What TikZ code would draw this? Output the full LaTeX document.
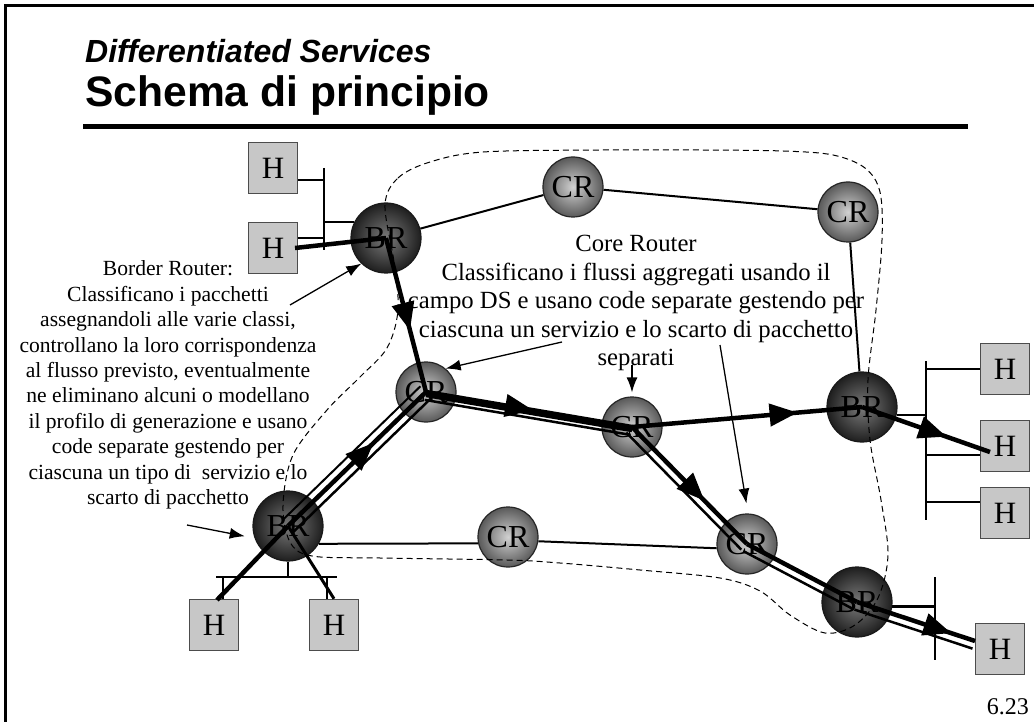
\documentclass[tikz,border=0pt]{standalone}
\usepackage{fontspec}
\setmainfont{Liberation Serif}
\newfontfamily\slidefont{Liberation Sans}
\usetikzlibrary{calc,arrows.meta,decorations.markings}

\tikzset{
  hostbox/.style={draw=black!70, line width=1.5, fill=black!22, minimum width=49,
    minimum height=51, inner sep=0, font=\fontsize{31}{31}\selectfont},
  coreball/.style={circle, draw=black!85, line width=1.2, inner color=black!18,
    outer color=black!65, minimum size=60, inner sep=0, font=\fontsize{32}{32}\selectfont},
  edgeball/.style={circle, draw=black!90, line width=1.2, inner color=black!52,
    outer color=black!88, minimum size=70, inner sep=0, font=\fontsize{32}{32}\selectfont},
  link/.style={line width=2},
  bus/.style={line width=2.5},
  flow/.style={line width=4.5},
  pipe/.style={line width=2.5},
  note/.style={line width=1.3, -{Latex[length=15pt,width=11pt]}},
  midarrow/.style={postaction={decorate}, decoration={markings,
    mark=at position #1 with {\arrow{Triangle[length=28pt,width=22pt]}}}},
}

\begin{document}
\begin{tikzpicture}[x=1pt, y=-1pt]
    \useasboundingbox (0,0) rectangle (1034,722);
    \clip (0,0) rectangle (1034,722); % only top and left of the slide frame show
    \draw[line width=2.5] (5.5,740) -- (5.5,5.5) -- (1050,5.5);

    % Title
    \node[anchor=base west, inner sep=0,
          font=\slidefont\bfseries\itshape\fontsize{32}{32}\selectfont]
          (SubTitle) at (85,63) {Differentiated Services};
    \node[anchor=base west, inner sep=0,
          font=\slidefont\bfseries\fontsize{42.6}{42.6}\selectfont]
          (MainTitle) at (85,107) {Schema di principio};
    \draw[line width=5] (83,126.5) -- (968,126.5);

    % Hosts
    \node[hostbox] (HTopLeftA)  at (273,168) {H};
    \node[hostbox] (HTopLeftB)  at (273,248) {H};
    \node[hostbox] (HBotLeftA)  at (214,625) {H};
    \node[hostbox] (HBotLeftB)  at (334,625) {H};
    \node[hostbox] (HRightA)    at (1005,369) {H};
    \node[hostbox] (HRightB)    at (1005,446) {H};
    \node[hostbox] (HRightC)    at (1005,513) {H};
    \node[hostbox] (HBotRight)  at (1000,649) {H};

    % Routers
    \node[edgeball] (BRTopLeft)  at (386,238) {BR};
    \node[edgeball] (BRBotLeft)  at (288,526) {BR};
    \node[edgeball] (BRRight)    at (862,407) {BR};
    \node[edgeball] (BRBotRight) at (857,602) {BR};
    \node[coreball] (CRTop)      at (573,187) {CR};
    \node[coreball] (CRTopRight) at (848,212) {CR};
    \node[coreball] (CRLeft)     at (426,392) {CR};
    \node[coreball] (CRMid)      at (632,427) {CR};
    \node[coreball] (CRBot)      at (508,537) {CR};
    \node[coreball] (CRLowRight) at (747,544) {CR};

    % Links between routers
    \draw[link] (BRTopLeft) -- (CRTop) -- (CRTopRight) -- (BRRight);
    \draw[link] (BRBotLeft.-30) -- (CRBot.192);
    \draw[link] (CRBot.-8) -- (CRLowRight.188);

    % Local buses
    \coordinate (BusTLTop) at (324,168);
    \coordinate (BusTLBot) at (324,250);
    \draw[bus] (BusTLTop) -- (BusTLBot);
    \draw[bus] (HTopLeftA.-25) -- (BusTLTop |- HTopLeftA.-25);
    \draw[link] (HTopLeftB.22) -- (BusTLTop |- HTopLeftB.22);
    \draw[bus] (BusTLTop |- BRTopLeft.153) -- (BRTopLeft.153);

    \coordinate (BusRTop) at (926,361);
    \coordinate (BusRBot) at (926,520);
    \draw[bus] (BusRTop) -- (BusRBot);
    \draw[bus] (HRightA.west) -- (BusRTop |- HRightA.west);
    \draw[bus] (BRRight.-13) -- (BusRTop |- BRRight.-13);
    \draw[bus] (HRightB.200) -- (BusRTop |- HRightB.200);
    \draw[bus] (HRightC.156) -- (BusRTop |- HRightC.156);

    \coordinate (BusBRTop) at (935,577);
    \coordinate (BusBRBot) at (935,660);
    \draw[bus] (BusBRTop) -- (BusBRBot);
    \draw[bus] (BRBotRight.-7) -- (BusBRTop |- BRBotRight.-7);

    \coordinate (BusBLLeft)  at (216,577);
    \coordinate (BusBLRight) at (337,577);
    \draw[bus] (BusBLLeft) -- (BusBLRight);
    \draw[bus] (BRBotLeft.south) -- (BRBotLeft.south |- BusBLLeft);
    \draw[bus] ($(HBotLeftA.north)+(9,0)$) |- (BusBLLeft);
    \draw[bus] ($(HBotLeftB.north)+(-7,0)$) |- (BusBLRight);

    % First flow: top left host to right host
    \coordinate (FlowOneStart) at (295,248);
    \coordinate (FlowOneEnd)   at (990,452);
    \draw[flow] (FlowOneStart) -- (BRTopLeft.center);
    \draw[flow, midarrow=0.6] (BRTopLeft.center) -- (CRLeft.center);
    \draw[flow, midarrow=0.52] (CRLeft.center) -- (CRMid.center);
    \draw[flow, midarrow=0.72] (CRMid.center) -- (BRRight.center);
    \draw[flow, midarrow=0.66] (BRRight.center) -- (FlowOneEnd);

    % Second flow: bottom left host to bottom right host
    \coordinate (FlowTwoStart) at (217,600);
    \coordinate (FlowTwoEnd)   at (975,641);
    \draw[flow] (FlowTwoStart) -- (BRBotLeft.center);
    \draw[flow, midarrow=0.62] (BRBotLeft.center) -- (CRLeft.center);
    \draw[flow] ($(CRLeft.center)+(0,3)$) -- ($(CRMid.center)+(0,3)$);
    \draw[flow, midarrow=0.63] (CRMid.center) -- (CRLowRight.center);
    \draw[flow] (CRLowRight.center) -- (BRBotRight.center);
    \draw[flow, midarrow=0.8] (BRBotRight.center) -- (FlowTwoEnd);
    \draw[line width=3] (HBotLeftB.north) -- (BRBotLeft.center);
    \foreach \a/\b in {BRBotLeft/CRLeft, CRLeft/CRMid, CRMid/CRLowRight,
                       CRLowRight/BRBotRight, BRBotRight/FlowTwoEnd}{%
      \draw[pipe] ($(\a)!8pt!-90:(\b)$) -- ($(\b)!8pt!90:(\a)$);
    }
    \draw[link] ($(BRBotLeft)!8pt!90:(CRLeft)$) -- ($(CRLeft)!8pt!-90:(BRBotLeft)$);

    % DS domain
    \draw[dash pattern=on 6pt off 4pt, line width=1]
      plot[smooth cycle, tension=0.55] coordinates {
        (385,205) (398,178) (430,162) (483,152) (600,150) (700,150) (783,151)
        (833,155) (865,168) (880,192) (882,240) (876,310) (868,380) (870,440)
        (881,500) (888,555) (878,598) (855,625) (825,633) (790,615) (760,591)
        (720,578) (640,570) (560,563) (507,560) (380,558) (312,556) (290,542)
        (283,505) (293,455) (327,410) (360,377) (387,348) (398,310) (394,262)};

    % Texts
    \node[align=center, inner sep=0, font=\fontsize{21.6}{25.4}\selectfont]
      (BRText) at (168,385) {Border Router:\\ Classificano i pacchetti\\
      assegnandoli alle varie classi,\\ controllano la loro corrispondenza\\
      al flusso previsto, eventualmente\\ ne eliminano alcuni o modellano\\
      il profilo di generazione e usano\\ code separate gestendo per\\
      ciascuna un tipo di\ \ servizio e lo\\ scarto di pacchetto};
    \node[align=center, inner sep=0, font=\fontsize{24.7}{28.5}\selectfont]
      (CRText) at (636,303) {Core Router\\
      Classificano i flussi aggregati usando il\\
      campo DS e usano code separate gestendo per\\
      ciascuna un servizio e lo scarto di pacchetto\\ separati};
    \node[anchor=east, inner sep=0, font=\fontsize{24}{24}\selectfont]
      (PageNo) at (1029,707) {6.23};

    % Pointers from the texts
    \coordinate (NoteBRa)   at (290,305);
    \coordinate (NoteBRb)   at (187,525);
    \coordinate (NoteCoreA) at (562,342);
    \coordinate (NoteCoreB) at (632,365);
    \coordinate (NoteCoreC) at (720,345);
    \draw[note] (NoteBRa) -- (BRTopLeft.226);
    \draw[note, shorten >=10pt] (NoteBRb) -- (BRBotLeft.200);
    \draw[note] (NoteCoreA) -- (CRLeft.50);
    \draw[note, shorten >=4pt] (NoteCoreB) -- (CRMid.north);
    \draw[note, shorten >=10pt] (NoteCoreC) -- (CRLowRight.88);
\end{tikzpicture}
\end{document}
